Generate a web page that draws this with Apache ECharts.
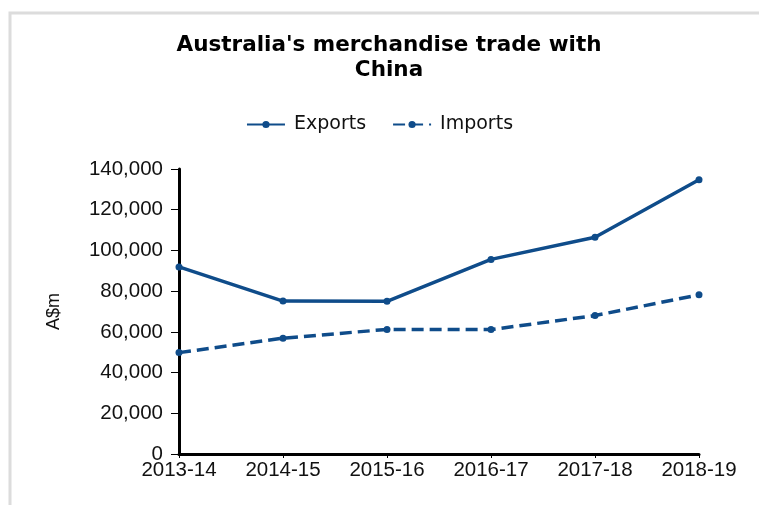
<!DOCTYPE html>
<html>
<head>
<meta charset="utf-8">
<script src="https://cdn.jsdelivr.net/npm/echarts@6/dist/echarts.min.js"></script>
<style>html,body{margin:0;padding:0;background:#fff;}#c{width:759px;height:505px;}</style>
</head>
<body>
<div id="c"></div>
<script>
const categories = ['2013-14', '2014-15', '2015-16', '2016-17', '2017-18', '2018-19'];
const exportsData = [91900, 75100, 75000, 95600, 106500, 134700];
const importsData = [49800, 56900, 61200, 61100, 68000, 78200];
const yTicks = [0, 20000, 40000, 60000, 80000, 100000, 120000, 140000];

const lineColor = '#0f4c8a';
const chart = echarts.init(document.getElementById('c'), null, {renderer: 'canvas'});
chart.setOption({
  animation: false,
  backgroundColor: '#fff',
  graphic: [{
    type: 'rect', shape: {x: 10, y: 13, width: 800, height: 600},
    style: {fill: 'none', stroke: '#dcdcdc', lineWidth: 3}, z: -1
  }],
  title: {
    text: "Australia's merchandise trade with\nChina",
    left: 384, top: 28, textAlign: 'center',
    textStyle: {fontFamily: 'DejaVu Sans', fontWeight: 'bold', fontSize: 21.5, color: '#000', lineHeight: 25}
  },
  legend: {
    top: 110, left: 'center',
    itemWidth: 38, itemHeight: 9, itemGap: 26,
    textStyle: {fontFamily: 'DejaVu Sans', fontSize: 19, color: '#111', padding: [0, 0, 0, 4]},
    data: ['Exports', 'Imports']
  },
  grid: {left: 179, right: 60, top: 169, bottom: 51},
  xAxis: {
    type: 'category', data: categories, boundaryGap: false,
    axisLine: {lineStyle: {color: '#000', width: 3}},
    axisTick: {show: true, length: 4, lineStyle: {color: '#000', width: 1}},
    axisLabel: {fontFamily: 'Liberation Sans', fontSize: 20.5, color: '#111', margin: 6}
  },
  yAxis: {
    type: 'value', min: 0, max: 140000, interval: 20000,
    name: 'A$m', nameLocation: 'middle', nameGap: 116, nameRotate: 90,
    nameTextStyle: {fontFamily: 'Liberation Sans', fontSize: 18, color: '#111'},
    splitLine: {show: false},
    axisLine: {show: true, lineStyle: {color: '#000', width: 3}},
    axisTick: {show: true, length: 8, lineStyle: {color: '#000', width: 1}},
    axisLabel: {
      fontFamily: 'Liberation Sans', fontSize: 20.5, color: '#111', margin: 16,
      formatter: v => v.toLocaleString('en-US')
    }
  },
  series: [
    {
      name: 'Exports', type: 'line', data: exportsData,
      symbol: 'circle', symbolSize: 7, showSymbol: true,
      lineStyle: {color: lineColor, width: 3.5},
      itemStyle: {color: lineColor}
    },
    {
      name: 'Imports', type: 'line', data: importsData,
      symbol: 'circle', symbolSize: 7,
      lineStyle: {color: lineColor, width: 3.5, type: [12, 6]},
      itemStyle: {color: lineColor}
    }
  ]
});
</script>
</body>
</html>
